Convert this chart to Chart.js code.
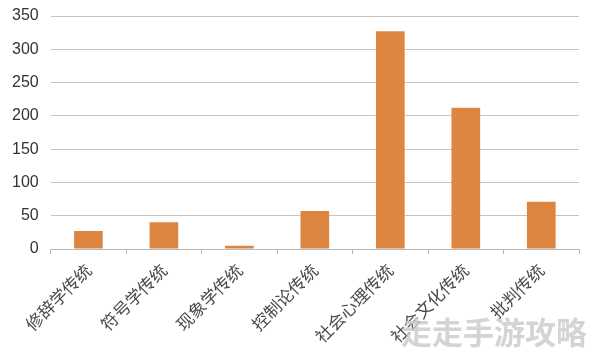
<!DOCTYPE html>
<html>
<head>
<meta charset="utf-8">
<script src="https://cdn.jsdelivr.net/npm/chart.js@4"></script>
<style>
  html, body { margin: 0; padding: 0; background: #fff; }
  #wrap { width: 594px; height: 354px; }
</style>
</head>
<body>
<div id="wrap"><canvas id="myChart" width="594" height="354"></canvas></div>
<script>
const categories = ['修辞学传统', '符号学传统', '现象学传统', '控制论传统', '社会心理传统', '社会文化传统', '批判传统'];
const counts = [27, 40, 5, 57, 327, 212, 71];
const yTicks = [0, 50, 100, 150, 200, 250, 300, 350];

// the watermark in the corner of the source picture
const watermark = {
  id: 'watermark',
  afterDraw(chart) {
    const c = chart.ctx;
    c.save();
    c.font = 'bold 31px "Noto Sans CJK SC"';
    c.textAlign = 'right';
    c.textBaseline = 'alphabetic';
    c.fillStyle = 'rgba(205, 205, 205, 0.85)';
    c.fillText('走走手游攻略', 587, 344);
    c.restore();
  }
};

const ctx = document.getElementById('myChart').getContext('2d');

const myChart = new Chart(ctx, {
  type: 'bar',
  data: {
    labels: categories,
    datasets: [{
      data: counts,
      backgroundColor: '#dd8641',
      borderWidth: 0,
      barPercentage: 0.76,
      categoryPercentage: 0.5
    }]
  },
  options: {
    responsive: false,
    animation: false,
    devicePixelRatio: 1,
    layout: { padding: { top: 16, right: 15, left: 0, bottom: 0 } },
    plugins: { legend: { display: false }, tooltip: { enabled: false } },
    scales: {
      x: {
        border: { color: '#b8b8b8', width: 1 },
        grid: { drawOnChartArea: false, drawTicks: true, tickLength: 5, color: '#b8b8b8' },
        ticks: {
          minRotation: 45,
          maxRotation: 45,
          color: '#4a4a4a',
          padding: 6,
          font: { family: '"Noto Sans CJK SC"', size: 17 }
        },
        afterFit(scale) { scale.height = 105; }
      },
      y: {
        min: 0,
        max: 350,
        afterBuildTicks(scale) { scale.ticks = yTicks.map(v => ({ value: v })); },
        afterFit(scale) { scale.paddingTop = 0; scale.paddingBottom = 0; },
        border: { display: false },
        grid: { color: '#c4c4c4', drawTicks: false },
        ticks: {
          color: '#333',
          padding: 12,
          font: { family: '"Liberation Sans"', size: 16 }
        }
      }
    }
  },
  plugins: [watermark]
});
</script>
</body>
</html>
